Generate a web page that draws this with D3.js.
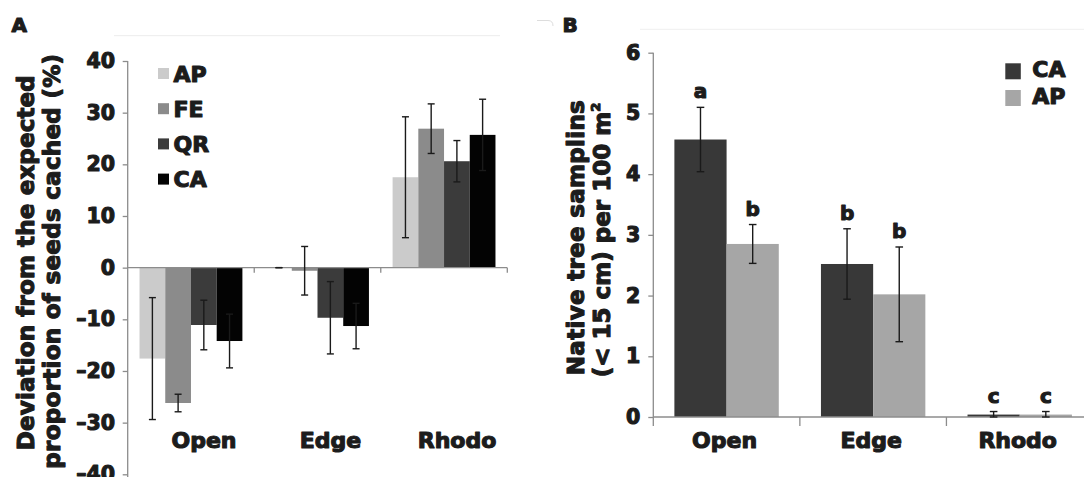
<!DOCTYPE html>
<html>
<head>
<meta charset="utf-8">
<script src="https://cdn.jsdelivr.net/npm/d3@7"></script>
<style>
  html, body { margin: 0; padding: 0; background: #fff; }
  svg { display: block; }
  text { font-family: "DejaVu Sans", "Liberation Sans", Arial, sans-serif; font-weight: bold; fill: #1c1c1c; }
  .heavy { stroke: #1c1c1c; stroke-width: 1.15px; stroke-linejoin: round; }
</style>
</head>
<body>
<svg id="chart" width="1084" height="477"></svg>
<script>
// ---- shared categories ----
const categories = ["Open", "Edge", "Rhodo"];

// ---- panel A: deviation from expected proportion of seeds cached (%) ----
const seriesA = ["AP", "FE", "QR", "CA"];
const apDev = [-17.6, 0, 17.5];
const feDev = [-26.2, -0.6, 26.9];
const qrDev = [-11.1, -9.7, 20.6];
const caDev = [-14.2, -11.3, 25.7];
const apDevErr = [11.8, 0, 11.7];
const feDevErr = [1.7, 4.7, 4.8];
const qrDevErr = [4.8, 7.0, 4.0];
const caDevErr = [5.2, 4.4, 6.9];
const ticksA = [-40, -30, -20, -10, 0, 10, 20, 30, 40];

// ---- panel B: native tree saplings per 100 m2 ----
const seriesB = ["CA", "AP"];
const caSaplings = [4.57, 2.52, 0.04];
const apSaplings = [2.85, 2.02, 0.04];
const caSaplingsErr = [0.53, 0.58, 0.05];
const apSaplingsErr = [0.32, 0.78, 0.05];
const caLetters = ["a", "b", "c"];
const apLetters = ["b", "b", "c"];
const ticksB = [0, 1, 2, 3, 4, 5, 6];

const colorsA = { AP: "#cbcbcb", FE: "#8b8b8b", QR: "#3b3b3b", CA: "#030303" };
const colorsB = { CA: "#383838", AP: "#a6a6a6" };

const svg = d3.select("#chart");
svg.append("rect").attr("width", 1084).attr("height", 477).attr("fill", "#fff");

const axisColor = "#8c8c8c";
const errColor = "#1a1a1a";

// faint frame remnants along the top
svg.append("line").attr("x1", 114).attr("x2", 500).attr("y1", 35.7).attr("y2", 35.7)
  .attr("stroke", "#ececec").attr("stroke-width", 1);
svg.append("line").attr("x1", 640).attr("x2", 1084).attr("y1", 29.3).attr("y2", 29.3)
  .attr("stroke", "#efefef").attr("stroke-width", 1);
svg.append("path").attr("d", "M537,20.5 H548 Q553,20.5 553,26")
  .attr("fill", "none").attr("stroke", "#dddddd").attr("stroke-width", 1);

function fmtMinus(d) { return d < 0 ? "\u2013" + Math.abs(d) : String(d); }

// ================= Panel A =================
{
  const g = svg.append("g");
  const y = d3.scaleLinear().domain([-40, 40]).range([474.3, 61]);
  const x0 = d3.scaleBand().domain(categories).range([127.7, 507.3]).padding(0);
  const x1 = d3.scaleBand().domain(seriesA).range([0, x0.bandwidth()])
    .paddingInner(0).paddingOuter(0.46);

  const rows = [
    { key: "AP", vals: apDev, errs: apDevErr },
    { key: "FE", vals: feDev, errs: feDevErr },
    { key: "QR", vals: qrDev, errs: qrDevErr },
    { key: "CA", vals: caDev, errs: caDevErr }
  ];
  const data = [];
  rows.forEach(r => categories.forEach((c, i) =>
    data.push({ s: r.key, c, v: r.vals[i], e: r.errs[i] })));

  // bars
  g.selectAll("rect.bar").data(data).join("rect")
    .attr("class", "bar")
    .attr("x", d => x0(d.c) + x1(d.s))
    .attr("width", x1.bandwidth())
    .attr("y", d => y(Math.max(0, d.v)))
    .attr("height", d => Math.abs(y(d.v) - y(0)))
    .attr("fill", d => colorsA[d.s]);

  // y axis
  const ya = d3.axisLeft(y).tickValues(ticksA).tickSize(5).tickPadding(7.7)
    .tickFormat(fmtMinus).tickSizeOuter(0);
  const yg = g.append("g").attr("transform", "translate(127.7,0)").call(ya);
  yg.select(".domain").remove();
  yg.selectAll(".tick line").attr("stroke", axisColor).attr("stroke-width", 1.3);
  yg.selectAll(".tick text").attr("class", "heavy")
    .style("font-size", "20.5px").attr("fill", "#1c1c1c");
  g.append("line").attr("x1", 127.7).attr("x2", 127.7)
    .attr("y1", y(40)).attr("y2", 477)
    .attr("stroke", axisColor).attr("stroke-width", 1.3);

  // category axis on the zero line
  const [xs, xe] = x0.range();
  g.append("line").attr("x1", xs).attr("x2", xe).attr("y1", y(0)).attr("y2", y(0))
    .attr("stroke", axisColor).attr("stroke-width", 1.3);
  g.selectAll("line.ctick").data(categories).join("line")
    .attr("class", "ctick")
    .attr("x1", d => x0(d) + x0.bandwidth()).attr("x2", d => x0(d) + x0.bandwidth())
    .attr("y1", y(0)).attr("y2", y(0) + 5)
    .attr("stroke", axisColor).attr("stroke-width", 1.3);
  g.selectAll("text.cat").data(categories).join("text")
    .attr("class", "cat heavy")
    .attr("x", d => x0(d) + x0.bandwidth() / 2 + 13)
    .attr("y", 448)
    .attr("text-anchor", "middle")
    .style("font-size", "22px")
    .text(d => d);

  // error bars
  const cap = 3.5;
  const eb = g.selectAll("g.err").data(data).join("g").attr("class", "err")
    .attr("stroke", errColor).attr("stroke-width", 1.4);
  eb.append("line")
    .attr("x1", d => x0(d.c) + x1(d.s) + x1.bandwidth() / 2)
    .attr("x2", d => x0(d.c) + x1(d.s) + x1.bandwidth() / 2)
    .attr("y1", d => y(d.v + d.e)).attr("y2", d => y(d.v - d.e));
  [1, -1].forEach(sgn => {
    eb.append("line")
      .attr("x1", d => x0(d.c) + x1(d.s) + x1.bandwidth() / 2 - cap)
      .attr("x2", d => x0(d.c) + x1(d.s) + x1.bandwidth() / 2 + cap)
      .attr("y1", d => y(d.v + sgn * d.e)).attr("y2", d => y(d.v + sgn * d.e));
  });

  // legend
  const lg = g.selectAll("g.leg").data(seriesA).join("g").attr("class", "leg")
    .attr("transform", (d, i) => `translate(158,${73.5 + i * 35.2})`);
  lg.append("rect").attr("x", 0).attr("y", -5.5).attr("width", 11).attr("height", 11)
    .attr("fill", d => colorsA[d]);
  lg.append("text").attr("class", "heavy").attr("x", 15.5).attr("y", 8)
    .style("font-size", "22px").text(d => d);

  // y title
  g.append("text").attr("class", "heavy")
    .attr("transform", "translate(33.5,262.7) rotate(-90)")
    .attr("text-anchor", "middle").style("font-size", "23px")
    .attr("textLength", 375).attr("lengthAdjust", "spacing")
    .text("Deviation from the expected");
  g.append("text").attr("class", "heavy")
    .attr("transform", "translate(60,261.3) rotate(-90)")
    .attr("text-anchor", "middle").style("font-size", "23px")
    .attr("textLength", 414.7).attr("lengthAdjust", "spacing")
    .text("proportion of seeds cached (%)");

  // panel letter
  g.append("text").attr("class", "heavy").attr("x", 11.5).attr("y", 31.7)
    .style("font-size", "20px").text("A");
}

// ================= Panel B =================
{
  const g = svg.append("g");
  const y = d3.scaleLinear().domain([0, 6]).range([417, 52.7]);
  const x0 = d3.scaleBand().domain(categories).range([653.3, 1093]).padding(0);
  const x1 = d3.scaleBand().domain(seriesB).range([0, x0.bandwidth()])
    .paddingInner(0).paddingOuter(0.404);

  const rows = [
    { key: "CA", vals: caSaplings, errs: caSaplingsErr, letters: caLetters },
    { key: "AP", vals: apSaplings, errs: apSaplingsErr, letters: apLetters }
  ];
  const data = [];
  rows.forEach(r => categories.forEach((c, i) =>
    data.push({ s: r.key, c, v: r.vals[i], e: r.errs[i], l: r.letters[i] })));
  const cx = d => x0(d.c) + x1(d.s) + x1.bandwidth() / 2;

  g.selectAll("rect.bar").data(data).join("rect")
    .attr("class", "bar")
    .attr("x", d => x0(d.c) + x1(d.s))
    .attr("width", x1.bandwidth())
    .attr("y", d => y(d.v))
    .attr("height", d => y(0) - y(d.v))
    .attr("fill", d => colorsB[d.s]);

  // y axis
  const ya = d3.axisLeft(y).tickValues(ticksB).tickSize(5).tickPadding(8)
    .tickFormat(d3.format("d")).tickSizeOuter(0);
  const yg = g.append("g").attr("transform", "translate(653.3,0)").call(ya);
  yg.select(".domain").remove();
  yg.selectAll(".tick line").attr("stroke", axisColor).attr("stroke-width", 1.3);
  yg.selectAll(".tick text").attr("class", "heavy")
    .style("font-size", "20.5px").attr("fill", "#1c1c1c");
  g.append("line").attr("x1", 653.3).attr("x2", 653.3)
    .attr("y1", y(6)).attr("y2", y(0) + 9)
    .attr("stroke", axisColor).attr("stroke-width", 1.3);

  // category axis
  g.append("line").attr("x1", 653.3).attr("x2", 1084).attr("y1", y(0)).attr("y2", y(0))
    .attr("stroke", axisColor).attr("stroke-width", 1.3);
  g.selectAll("line.ctick").data(categories.slice(0, 2)).join("line")
    .attr("class", "ctick")
    .attr("x1", d => x0(d) + x0.bandwidth()).attr("x2", d => x0(d) + x0.bandwidth())
    .attr("y1", y(0)).attr("y2", y(0) + 9)
    .attr("stroke", axisColor).attr("stroke-width", 1.3);
  g.selectAll("text.cat").data(categories).join("text")
    .attr("class", "cat heavy")
    .attr("x", d => x0(d) + x0.bandwidth() / 2 - 2)
    .attr("y", 448)
    .attr("text-anchor", "middle")
    .style("font-size", "22px")
    .text(d => d);

  // error bars
  const cap = 3.8;
  const eb = g.selectAll("g.err").data(data).join("g").attr("class", "err")
    .attr("stroke", errColor).attr("stroke-width", 1.4);
  eb.append("line").attr("x1", cx).attr("x2", cx)
    .attr("y1", d => y(d.v + d.e)).attr("y2", d => y(Math.max(0, d.v - d.e)));
  [1, -1].forEach(sgn => {
    eb.append("line")
      .attr("x1", d => cx(d) - cap).attr("x2", d => cx(d) + cap)
      .attr("y1", d => y(Math.max(0, d.v + sgn * d.e)))
      .attr("y2", d => y(Math.max(0, d.v + sgn * d.e)));
  });

  // significance letters
  g.selectAll("text.sig").data(data).join("text")
    .attr("class", "sig heavy")
    .attr("x", cx)
    .attr("y", d => y(d.v + d.e) - 9)
    .attr("text-anchor", "middle")
    .style("font-size", "20px")
    .text(d => d.l);

  // legend
  const lg = g.selectAll("g.leg").data(seriesB).join("g").attr("class", "leg")
    .attr("transform", (d, i) => `translate(1005.3,${71.3 + i * 26.7})`);
  lg.append("rect").attr("x", 0).attr("y", -8).attr("width", 15.5).attr("height", 16)
    .attr("fill", d => colorsB[d]);
  lg.append("text").attr("class", "heavy").attr("x", 27).attr("y", 6)
    .style("font-size", "22px").text(d => d);

  // y title
  g.append("text").attr("class", "heavy")
    .attr("transform", "translate(583.5,237.7) rotate(-90)")
    .attr("text-anchor", "middle").style("font-size", "23px")
    .attr("textLength", 275).attr("lengthAdjust", "spacing")
    .text("Native tree samplins");
  const t2 = g.append("text").attr("class", "heavy")
    .attr("transform", "translate(610,240) rotate(-90)")
    .attr("text-anchor", "middle").style("font-size", "23px");
  t2.append("tspan").text("(< 15 cm) per 100 m");
  t2.append("tspan").attr("dy", -10).style("font-size", "13px").text("2");

  g.append("text").attr("class", "heavy").attr("x", 562.5).attr("y", 31.7)
    .style("font-size", "20px").text("B");
}
</script>
</body>
</html>
